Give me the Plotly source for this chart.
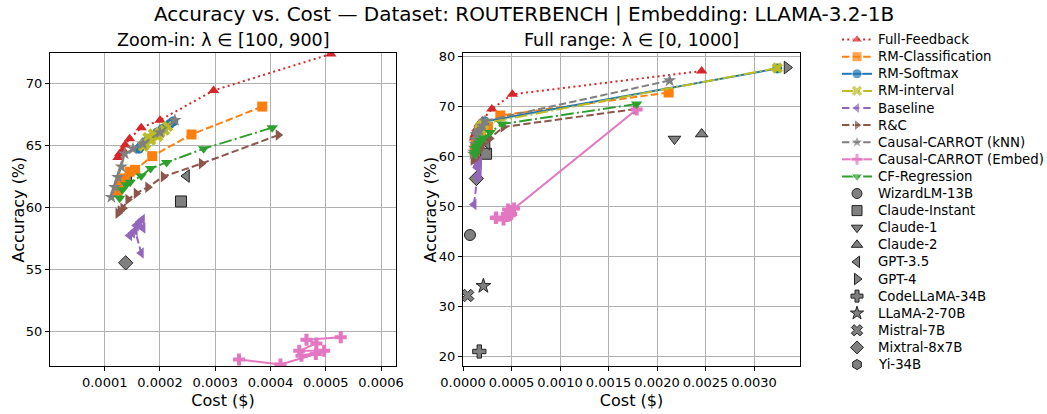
import plotly.graph_objects as go

# ---------------- data ----------------
lambdas = [0, 100, 200, 300, 400, 500, 600, 700, 800, 900, 1000]

router_names = ["Full-Feedback", "RM-Classification", "RM-Softmax", "RM-interval",
                "Baseline", "R&C", "Causal-CARROT (kNN)", "Causal-CARROT (Embed)",
                "CF-Regression"]

ff_cost = [0.00246, 0.000509, 0.000297, 0.000200, 0.000166, 0.000145, 0.000137, 0.000133, 0.000127, 0.000124, 0.000118]
ff_acc = [77.0, 72.34, 69.4, 67.0, 66.4, 65.5, 65.0, 64.6, 64.3, 64.0, 63.6]

rmc_cost = [0.00212, 0.000385, 0.000257, 0.000186, 0.000155, 0.000145, 0.000136, 0.000130, 0.000127, 0.000123, 0.000120]
rmc_acc = [72.7, 68.1, 65.85, 64.1, 63.0, 62.85, 62.3, 62.0, 61.6, 61.3, 61.0]

rms_cost = [0.00324, 0.000224, 0.000218, 0.000205, 0.000195, 0.000188, 0.000180, 0.000172, 0.000166, 0.000162, 0.000158]
rms_acc = [77.5, 66.9, 66.7, 66.3, 66.0, 65.7, 65.5, 65.2, 64.9, 64.7, 64.5]

rmi_cost = [0.00324, 0.000214, 0.000208, 0.000200, 0.000196, 0.000188, 0.000183, 0.000178, 0.000174, 0.000170, 0.000168]
rmi_acc = [77.6, 66.5, 66.2, 66.0, 65.7, 65.9, 65.4, 65.6, 65.1, 64.9, 64.8]

base_cost = [0.000113, 0.000163, 0.000168, 0.000157, 0.000169, 0.000160, 0.000150, 0.000145, 0.000155, 0.000166, 0.000150]
base_acc = [50.3, 58.8, 59.0, 58.5, 58.3, 58.6, 57.9, 57.7, 58.1, 56.3, 56.0]

rc_cost = [0.00178, 0.000414, 0.000275, 0.000206, 0.000178, 0.000157, 0.000142, 0.000133, 0.000128, 0.000124, 0.000105]
rc_acc = [69.4, 65.8, 63.5, 62.45, 61.6, 61.1, 60.6, 59.9, 59.7, 59.5, 59.2]

knn_cost = [0.00213, 0.000227, 0.000200, 0.000169, 0.000151, 0.000136, 0.000130, 0.000124, 0.000118, 0.000112, 0.000108]
knn_acc = [75.1, 67.0, 66.0, 65.1, 64.7, 64.3, 63.25, 62.4, 61.6, 60.8, 60.4]

emb_cost = [0.00179, 0.000527, 0.000465, 0.000483, 0.000452, 0.000497, 0.000456, 0.000482, 0.000418, 0.000343, 0.000338]
emb_acc = [69.3, 49.5, 49.3, 49.0, 48.4, 48.4, 48.0, 48.15, 47.3, 47.7, 47.6]

cf_cost = [0.00179, 0.000403, 0.000279, 0.000212, 0.000183, 0.000166, 0.000146, 0.000139, 0.000132, 0.000127, 0.000122]
cf_acc = [70.4, 66.4, 64.7, 63.6, 63.1, 62.5, 62.0, 61.8, 61.4, 60.7, 60.3]

llm_names = ["WizardLM-13B", "Claude-Instant", "Claude-1", "Claude-2", "GPT-3.5", "GPT-4",
             "CodeLLaMA-34B", "LLaMA-2-70B", "Mistral-7B", "Mixtral-8x7B", "Yi-34B"]
llm_cost = [0.000072, 0.000238, 0.00218, 0.00246, 0.000248, 0.00334,
            0.000168, 0.000210, 0.000048, 0.000138, 0.000140]
llm_acc = [44.2, 60.45, 63.4, 64.4, 62.5, 77.7, 20.9, 34.0, 32.1, 55.5, 62.3]

# ---------------- styles ----------------
router_cost = [ff_cost, rmc_cost, rms_cost, rmi_cost, base_cost, rc_cost, knn_cost, emb_cost, cf_cost]
router_acc = [ff_acc, rmc_acc, rms_acc, rmi_acc, base_acc, rc_acc, knn_acc, emb_acc, cf_acc]
router_colors = ["#d62728", "#ff7f0e", "#1f77b4", "#bcbd22", "#9467bd", "#8c564b",
                 "#7f7f7f", "#e377c2", "#2ca02c"]
router_symbols = ["triangle-up", "square", "circle", "x", "triangle-left", "triangle-right",
                  "star", "cross", "triangle-down"]
DOT = "2px,3.3px"
DASH = "7.4px,3.2px"
DASHDOT = "12.8px,3.2px,2px,3.2px"
router_dash = [DOT, DASH, "solid", DASHDOT, DASH, DASH, DASH, "solid", DASHDOT]
llm_symbols = ["circle", "square", "triangle-down", "triangle-up", "triangle-left",
               "triangle-right", "cross", "star", "x", "diamond", "hexagon"]
LLM_FILL = "#808080"
LLM_EDGE = "#222222"
MSIZE = 10
LLM_MSIZE = 11

FONT = "DejaVu Sans"
W, H = 1047, 414

fig = go.Figure()

# individual LLMs (drawn first, beneath the routers)
for j, name in enumerate(llm_names):
    for xa, ya in [("x", "y"), ("x2", "y2")]:
        fig.add_trace(go.Scatter(
            x=[llm_cost[j]], y=[llm_acc[j]], mode="markers", name=name,
            xaxis=xa, yaxis=ya, showlegend=False,
            marker=dict(symbol=llm_symbols[j], size=LLM_MSIZE, color=LLM_FILL,
                        line=dict(color=LLM_EDGE, width=1)),
        ))

# routers
for i, name in enumerate(router_names):
    zc = [c for l, c in zip(lambdas, router_cost[i]) if 100 <= l <= 900]
    za = [a for l, a in zip(lambdas, router_acc[i]) if 100 <= l <= 900]
    for xs, ys, xa, ya in [(zc, za, "x", "y"), (router_cost[i], router_acc[i], "x2", "y2")]:
        fig.add_trace(go.Scatter(
            x=xs, y=ys, mode="lines+markers", name=name, xaxis=xa, yaxis=ya,
            showlegend=False,
            line=dict(color=router_colors[i], width=2, dash=router_dash[i]),
            marker=dict(symbol=router_symbols[i], size=MSIZE, color=router_colors[i]),
        ))

# ---------------- legend (drawn in a hidden pixel-unit axis) ----------------
LEG_X0, LEG_TOP, LEG_STEP = 842, 39.6, 17.1
legend_annotations = []
entries = ([(n, router_colors[i], router_symbols[i], router_dash[i], True, MSIZE)
            for i, n in enumerate(router_names)] +
           [(n, LLM_FILL, llm_symbols[j], None, False, LLM_MSIZE - 1)
            for j, n in enumerate(llm_names)])
for k, (name, col, sym, dash, has_line, ms) in enumerate(entries):
    yk = LEG_TOP + k * LEG_STEP
    if has_line:
        fig.add_trace(go.Scatter(
            x=[LEG_X0, LEG_X0 + 15, LEG_X0 + 30], y=[yk, yk, yk], mode="lines+markers",
            xaxis="x3", yaxis="y3", showlegend=False, hoverinfo="skip", cliponaxis=False,
            line=dict(color=col, width=2, dash=dash),
            marker=dict(symbol=sym, size=[0, ms, 0], color=col),
        ))
    else:
        fig.add_trace(go.Scatter(
            x=[LEG_X0 + 15], y=[yk], mode="markers",
            xaxis="x3", yaxis="y3", showlegend=False, hoverinfo="skip", cliponaxis=False,
            marker=dict(symbol=sym, size=ms, color=col, line=dict(color=LLM_EDGE, width=1)),
        ))
    legend_annotations.append(dict(
        text=name, x=LEG_X0 + 34, y=yk, xref="x3", yref="y3", showarrow=False,
        xanchor="left", yanchor="middle", font=dict(family=FONT, size=13.3, color="black")))

axis_common = dict(showline=True, linecolor="black", linewidth=1, mirror=True,
                   ticks="outside", ticklen=4, tickcolor="black", automargin=False,
                   showgrid=True, gridcolor="#b0b0b0", gridwidth=1, zeroline=False,
                   tickfont=dict(family=FONT, size=13, color="black"))

PLOT_TOP, PLOT_BOT = 53, 366
ytitle_font = dict(size=16, family=FONT, color="black")

fig.update_layout(
    width=W, height=H,
    margin=dict(l=0, r=0, t=0, b=0, autoexpand=False),
    paper_bgcolor="white", plot_bgcolor="white",
    font=dict(family=FONT, color="black"),
    showlegend=False,
    xaxis=dict(domain=[50 / W, 396 / W], range=[0.000001, 0.000627],
               tickvals=[0.0001, 0.0002, 0.0003, 0.0004, 0.0005, 0.0006], tickformat=".4f",
               title=dict(text="Cost ($)", font=dict(size=16), standoff=6),
               anchor="y", **axis_common),
    yaxis=dict(domain=[1 - PLOT_BOT / H, 1 - PLOT_TOP / H], range=[47.18, 72.42],
               tickvals=[50, 55, 60, 65, 70], anchor="x", **axis_common),
    xaxis2=dict(domain=[463 / W, 800 / W], range=[0.0, 0.003474],
                tickvals=[0.0, 0.0005, 0.001, 0.0015, 0.002, 0.0025, 0.003], tickformat=".4f",
                title=dict(text="Cost ($)", font=dict(size=16), standoff=6),
                anchor="y2", **axis_common),
    yaxis2=dict(domain=[1 - PLOT_BOT / H, 1 - PLOT_TOP / H], range=[18.0, 80.6],
                tickvals=[20, 30, 40, 50, 60, 70, 80], anchor="x2", **axis_common),
    xaxis3=dict(domain=[823 / W, 1.0], range=[823, W], visible=False, fixedrange=True,
                automargin=False),
    yaxis3=dict(domain=[0.0, 1.0], range=[H, 0], visible=False, fixedrange=True, anchor="x3",
                automargin=False),
    annotations=[
        dict(text="Accuracy vs. Cost — Dataset: ROUTERBENCH | Embedding: LLAMA-3.2-1B",
             x=0.5, y=1 - 14 / H, xref="paper", yref="paper", showarrow=False,
             font=dict(size=20, family=FONT), xanchor="center", yanchor="middle"),
        dict(text="Zoom-in: λ ∈ [100, 900]", x=(50 + 396) / 2 / W, y=1 - 40 / H,
             xref="paper", yref="paper", showarrow=False,
             font=dict(size=17.5, family=FONT), xanchor="center", yanchor="middle"),
        dict(text="Full range: λ ∈ [0, 1000]", x=(463 + 800) / 2 / W, y=1 - 40 / H,
             xref="paper", yref="paper", showarrow=False,
             font=dict(size=17.5, family=FONT), xanchor="center", yanchor="middle"),
        dict(text="Accuracy (%)", x=18 / W, y=1 - (PLOT_TOP + PLOT_BOT) / 2 / H,
             xref="paper", yref="paper", showarrow=False, textangle=-90,
             font=ytitle_font, xanchor="center", yanchor="middle"),
        dict(text="Accuracy (%)", x=430 / W, y=1 - (PLOT_TOP + PLOT_BOT) / 2 / H,
             xref="paper", yref="paper", showarrow=False, textangle=-90,
             font=ytitle_font, xanchor="center", yanchor="middle"),
    ] + legend_annotations,
)

fig.write_html("out.html")
